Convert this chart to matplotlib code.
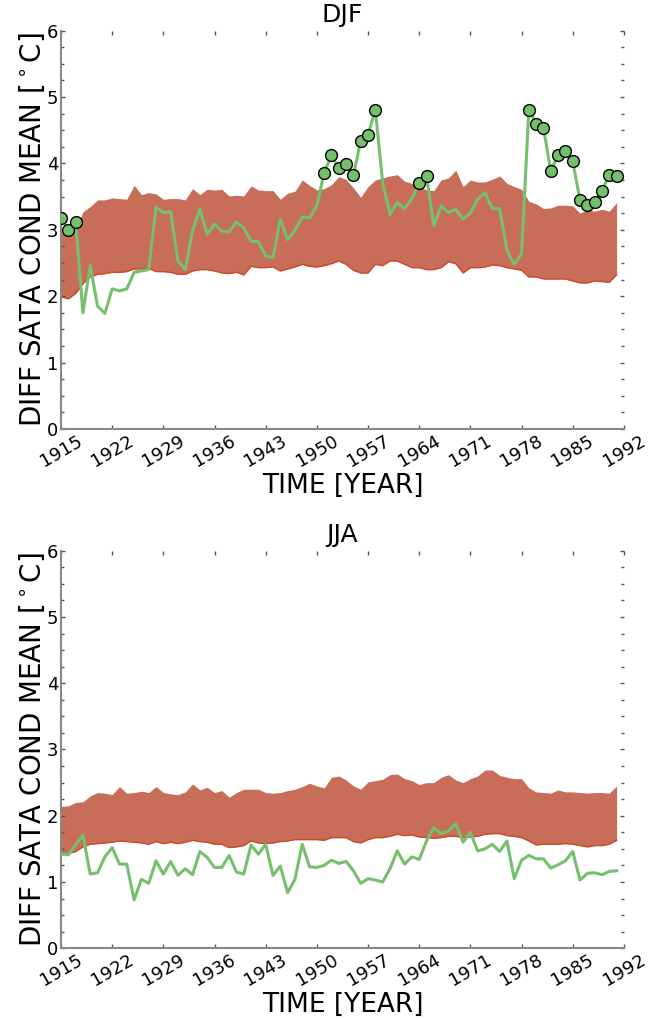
import numpy as np
import matplotlib
matplotlib.use("Agg")
import matplotlib.pyplot as plt
from matplotlib.ticker import MultipleLocator

years = list(range(1915, 1992))

djf_obs = [3.18, 2.99, 3.12, 1.75, 2.46, 1.85, 1.74, 2.11, 2.08, 2.11,
           2.36, 2.38, 2.40, 3.34, 3.26, 3.27, 2.53, 2.40, 2.99, 3.31,
           2.93, 3.09, 2.98, 2.97, 3.12, 3.03, 2.83, 2.82, 2.61, 2.58,
           3.16, 2.85, 2.99, 3.19, 3.18, 3.36, 3.86, 4.12, 3.93, 3.99,
           3.82, 4.34, 4.43, 4.81, 3.71, 3.23, 3.41, 3.32, 3.47, 3.70,
           3.81, 3.06, 3.36, 3.26, 3.31, 3.16, 3.25, 3.46, 3.56, 3.32,
           3.32, 2.69, 2.48, 2.64, 4.81, 4.60, 4.53, 3.89, 4.12, 4.19,
           4.03, 3.45, 3.38, 3.42, 3.59, 3.83, 3.81]
djf_upper = [2.95, 2.95, 3.00, 3.27, 3.35, 3.45, 3.45, 3.48, 3.47, 3.46,
             3.67, 3.53, 3.56, 3.54, 3.46, 3.47, 3.47, 3.45, 3.62, 3.53,
             3.61, 3.60, 3.61, 3.51, 3.52, 3.51, 3.66, 3.60, 3.59, 3.59,
             3.46, 3.55, 3.58, 3.75, 3.67, 3.60, 3.62, 3.68, 3.80, 3.76,
             3.63, 3.49, 3.65, 3.75, 3.78, 3.81, 3.83, 3.73, 3.70, 3.66,
             3.60, 3.59, 3.75, 3.78, 3.90, 3.65, 3.75, 3.72, 3.72, 3.76,
             3.81, 3.70, 3.65, 3.61, 3.43, 3.39, 3.32, 3.33, 3.37, 3.37,
             3.36, 3.25, 3.30, 3.28, 3.31, 3.28, 3.41]
djf_lower = [1.99, 1.96, 2.04, 2.19, 2.29, 2.33, 2.34, 2.36, 2.36, 2.37,
             2.41, 2.41, 2.42, 2.37, 2.37, 2.36, 2.33, 2.33, 2.38, 2.40,
             2.40, 2.38, 2.35, 2.34, 2.36, 2.32, 2.45, 2.43, 2.43, 2.44,
             2.38, 2.41, 2.44, 2.48, 2.45, 2.44, 2.46, 2.49, 2.53, 2.48,
             2.39, 2.35, 2.35, 2.48, 2.46, 2.53, 2.53, 2.48, 2.43, 2.43,
             2.40, 2.40, 2.43, 2.52, 2.49, 2.35, 2.43, 2.43, 2.44, 2.47,
             2.46, 2.43, 2.41, 2.39, 2.29, 2.29, 2.26, 2.26, 2.26, 2.26,
             2.23, 2.20, 2.20, 2.23, 2.22, 2.21, 2.32]

jja_obs = [1.42, 1.41, 1.56, 1.71, 1.12, 1.14, 1.38, 1.52, 1.27, 1.27,
           0.73, 1.04, 0.98, 1.32, 1.12, 1.31, 1.10, 1.20, 1.11, 1.46,
           1.37, 1.22, 1.22, 1.40, 1.15, 1.12, 1.56, 1.42, 1.57, 1.10,
           1.24, 0.84, 1.04, 1.57, 1.23, 1.22, 1.25, 1.33, 1.28, 1.31,
           1.17, 0.98, 1.05, 1.03, 1.00, 1.20, 1.47, 1.27, 1.38, 1.34,
           1.62, 1.82, 1.73, 1.77, 1.88, 1.60, 1.75, 1.47, 1.50, 1.57,
           1.46, 1.62, 1.05, 1.33, 1.40, 1.35, 1.35, 1.21, 1.26, 1.32,
           1.46, 1.03, 1.13, 1.14, 1.11, 1.16, 1.17]
jja_upper = [2.14, 2.15, 2.20, 2.21, 2.30, 2.35, 2.34, 2.32, 2.44, 2.34,
             2.35, 2.37, 2.35, 2.44, 2.35, 2.33, 2.32, 2.36, 2.48, 2.39,
             2.43, 2.35, 2.38, 2.28, 2.35, 2.40, 2.40, 2.40, 2.35, 2.34,
             2.35, 2.38, 2.40, 2.44, 2.49, 2.45, 2.42, 2.58, 2.60, 2.54,
             2.45, 2.40, 2.51, 2.53, 2.55, 2.62, 2.63, 2.56, 2.53, 2.47,
             2.50, 2.50, 2.58, 2.62, 2.54, 2.50, 2.56, 2.60, 2.69, 2.69,
             2.61, 2.58, 2.56, 2.56, 2.42, 2.36, 2.35, 2.34, 2.39, 2.36,
             2.36, 2.35, 2.34, 2.35, 2.35, 2.34, 2.45]
jja_lower = [1.42, 1.43, 1.46, 1.53, 1.57, 1.58, 1.59, 1.60, 1.62, 1.61,
             1.60, 1.59, 1.57, 1.61, 1.58, 1.60, 1.58, 1.60, 1.63, 1.61,
             1.60, 1.57, 1.57, 1.52, 1.53, 1.55, 1.62, 1.59, 1.58, 1.59,
             1.61, 1.62, 1.64, 1.64, 1.64, 1.64, 1.63, 1.67, 1.67, 1.67,
             1.61, 1.59, 1.64, 1.67, 1.67, 1.69, 1.72, 1.70, 1.71, 1.68,
             1.67, 1.66, 1.67, 1.69, 1.69, 1.67, 1.68, 1.69, 1.72, 1.73,
             1.73, 1.70, 1.69, 1.67, 1.62, 1.56, 1.57, 1.57, 1.57, 1.58,
             1.57, 1.55, 1.53, 1.55, 1.55, 1.57, 1.63]

xticks = [1915, 1922, 1929, 1936, 1943, 1950, 1957, 1964, 1971, 1978, 1985, 1992]
titles = ["DJF", "JJA"]

BAND = "#c86d57"
EDGE = "#d0482a"
GREEN = "#74c06c"

fig = plt.figure(figsize=(6.63, 10.19), dpi=100)
ax1 = fig.add_axes([0.092, 0.579, 0.849, 0.391])
ax2 = fig.add_axes([0.092, 0.0694, 0.849, 0.3902])

series = [(djf_obs, djf_upper, djf_lower), (jja_obs, jja_upper, jja_lower)]
for ax, title, (obs, up, lo) in zip([ax1, ax2], titles, series):
    yr = np.array(years)
    obs = np.array(obs); up = np.array(up); lo = np.array(lo)
    ax.fill_between(yr, lo, up, color=BAND, linewidth=0, zorder=1)
    ax.plot(yr, lo, color=EDGE, lw=1.0, zorder=2)
    ax.plot(yr, obs, color=GREEN, lw=2.2, zorder=3)
    m = obs > up
    ax.plot(yr[m], obs[m], 'o', color=GREEN, markeredgecolor='black',
            markeredgewidth=1.0, markersize=8.5, zorder=4)
    ax.set_xlim(1915, 1992)
    ax.set_ylim(0, 6)
    ax.set_xticks(xticks)
    ax.set_xticklabels([str(t) for t in xticks], rotation=30)
    ax.yaxis.set_major_locator(MultipleLocator(1))
    ax.yaxis.set_minor_locator(MultipleLocator(0.25))
    ax.tick_params(axis='both', which='major', direction='in', length=3,
                   width=1, color='#555555', labelsize=13, pad=2,
                   top=True, right=True)
    ax.tick_params(axis='y', which='minor', direction='in', length=2,
                   width=1, color='#555555', left=True, right=True)
    for s in ['top', 'right']:
        ax.spines[s].set_visible(False)
    for s in ['left', 'bottom']:
        ax.spines[s].set_color('#888888')
        ax.spines[s].set_linewidth(1.5)
    ax.set_title(title, fontsize=18, pad=6)
    ax.set_xlabel("TIME [YEAR]", fontsize=19, labelpad=2)
    ax.set_ylabel(r"DIFF SATA COND MEAN [$^\circ$C]", fontsize=20, labelpad=0)

fig.savefig("out.png", dpi=100)
